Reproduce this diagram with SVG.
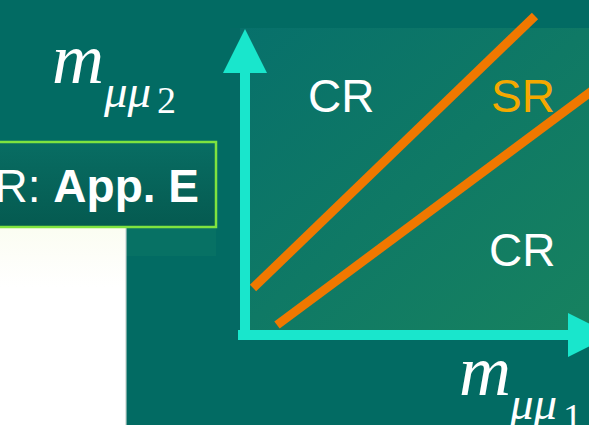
<svg xmlns="http://www.w3.org/2000/svg" width="589" height="425" viewBox="0 0 589 425">
<defs>
<linearGradient id="panel" x1="0" y1="0" x2="1" y2="1">
<stop offset="0" stop-color="#07706b"/>
<stop offset="1" stop-color="#17825f"/>
</linearGradient>
<linearGradient id="box" x1="0" y1="0" x2="0" y2="1">
<stop offset="0" stop-color="#086d63"/>
<stop offset="1" stop-color="#055a50"/>
</linearGradient>
<linearGradient id="paper" x1="0" y1="0" x2="0" y2="1">
<stop offset="0" stop-color="#fbfdf2"/>
<stop offset="0.3" stop-color="#ffffff"/>
</linearGradient>
<style>
.ax{fill:#19e6cc}
.cut{stroke:#f07800;stroke-width:9;fill:none}
.lab{font-family:"Liberation Sans",Arial,sans-serif;font-size:46px;fill:#ffffff}
.mth{font-family:"Liberation Serif","Times New Roman",serif;fill:#ffffff}
.m{font-size:72px;font-style:italic}
.mu{font-size:47px;font-style:italic}
.idx{font-size:38px}
</style>
</defs>
<rect width="589" height="425" fill="#026b63"/>
<g id="panel-bg">
<rect x="230" y="28" width="359" height="312" fill="url(#panel)"/>
<rect x="230" y="28" width="10" height="312" fill="#046a64"/>
</g>
<g id="note">
<rect x="126" y="228" width="90" height="28" fill="#0c7565" opacity="0.6"/>
<rect x="0" y="228" width="126" height="197" fill="url(#paper)"/>
<rect x="125" y="228" width="1.5" height="197" fill="#dde3e0"/>
<rect x="-5" y="142" width="221" height="85" fill="url(#box)" stroke="#7fe33f" stroke-width="2.5"/>
<text class="lab" x="199" y="202" text-anchor="end">R: <tspan font-weight="bold">App. E</tspan></text>
</g>
<g id="y-label">
<text class="mth m" x="52" y="83">m</text>
<text class="mth mu" x="104" y="107">μμ</text>
<text class="mth idx" x="157" y="113">2</text>
</g>
<g id="x-label">
<text class="mth m" x="459" y="395">m</text>
<text class="mth mu" x="510" y="419">μμ</text>
<text class="mth idx" x="563" y="430">1</text>
</g>
<g id="connectors">
<g id="y-axis">
<rect class="ax" x="240" y="70" width="10" height="270"/>
<polygon class="ax" points="245,29 267,73 223,73"/>
</g>
<g id="x-axis">
<rect class="ax" x="238" y="330" width="333" height="10"/>
<polygon class="ax" points="568,313 612,335 568,357"/>
</g>
<line id="cut-upper" class="cut" x1="253" y1="288" x2="535" y2="16"/>
<line id="cut-lower" class="cut" x1="277" y1="325" x2="600" y2="85"/>
</g>
<g id="cr-top"><text class="lab" x="308" y="112">CR</text></g>
<g id="sr"><text class="lab" x="491" y="112" style="fill:#f5a800">SR</text></g>
<g id="cr-bottom"><text class="lab" x="489" y="266">CR</text></g>
</svg>
